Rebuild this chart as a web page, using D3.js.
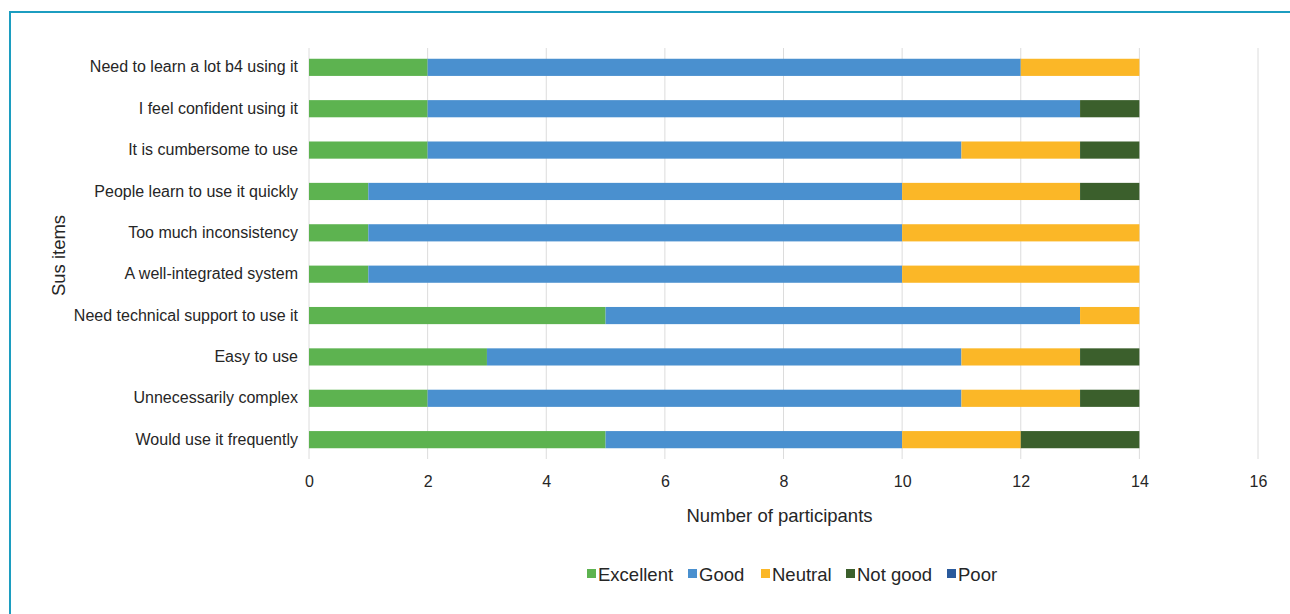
<!DOCTYPE html>
<html>
<head>
<meta charset="utf-8">
<script src="https://cdn.jsdelivr.net/npm/d3@7"></script>
<style>
  body { margin: 0; background: #fff; }
  text { font-family: "Liberation Sans", Arial, sans-serif; fill: #262626; }
</style>
</head>
<body>
<div class="chart"></div>
<script>
var items = [
  "Need to learn a lot b4 using it",
  "I feel confident using it",
  "It is cumbersome to use",
  "People learn to use it quickly",
  "Too much inconsistency",
  "A well-integrated system",
  "Need technical support to use it",
  "Easy to use",
  "Unnecessarily complex",
  "Would use it frequently"
];
var seriesNames = ["Excellent", "Good", "Neutral", "Not good", "Poor"];
var excellent = [2, 2, 2, 1, 1, 1, 5, 3, 2, 5];
var good      = [10, 11, 9, 9, 9, 9, 8, 8, 9, 5];
var neutral   = [2, 0, 2, 3, 4, 4, 1, 2, 2, 2];
var notGood   = [0, 1, 1, 1, 0, 0, 0, 1, 1, 2];
var poor      = [0, 0, 0, 0, 0, 0, 0, 0, 0, 0];
var xTicks = [0, 2, 4, 6, 8, 10, 12, 14, 16];
var colors = ["#5db350", "#4a90cf", "#fbb727", "#3b5f2c", "#2a5a9c"];

var svgWidth = 1290;
var svgHeight = 614;
var margin = { top: 48, right: 32, bottom: 155, left: 309 };
var width = svgWidth - margin.left - margin.right;
var height = svgHeight - margin.top - margin.bottom;

var svg = d3.select(".chart")
  .append("svg")
  .attr("width", svgWidth)
  .attr("height", svgHeight);

// frame
svg.append("path")
  .attr("d", "M10,614 V12 H1290")
  .attr("fill", "none")
  .attr("stroke", "#1c9dc0")
  .attr("stroke-width", 2);

var chartGroup = svg.append("g")
  .attr("transform", `translate(${margin.left}, ${margin.top})`);

// build table for stack
var rows = items.map(function(d, i) {
  return { item: d, "Excellent": excellent[i], "Good": good[i], "Neutral": neutral[i], "Not good": notGood[i], "Poor": poor[i] };
});
var stacked = d3.stack().keys(seriesNames)(rows);

var xScale = d3.scaleLinear().domain([0, 16]).range([0, width]);
var yScale = d3.scaleBand().domain(items).range([0, height]).paddingInner(0.585).paddingOuter(0.26);

// grid
chartGroup.selectAll(".grid")
  .data(xTicks)
  .enter()
  .append("line")
  .attr("x1", d => xScale(d))
  .attr("x2", d => xScale(d))
  .attr("y1", 0)
  .attr("y2", height)
  .attr("stroke", "#dcdcdc")
  .attr("stroke-width", 1);

// bars
chartGroup.selectAll(".series")
  .data(stacked)
  .enter()
  .append("g")
  .attr("fill", (d, i) => colors[i])
  .selectAll("rect")
  .data(d => d)
  .enter()
  .append("rect")
  .attr("x", d => xScale(d[0]))
  .attr("y", d => yScale(d.data.item))
  .attr("width", d => xScale(d[1]) - xScale(d[0]))
  .attr("height", yScale.bandwidth());

// axes
var bottomAxis = d3.axisBottom(xScale).tickValues(xTicks).tickSize(0).tickPadding(17);
var xg = chartGroup.append("g")
  .attr("transform", `translate(0, ${height})`)
  .call(bottomAxis);
xg.select(".domain").remove();
xg.selectAll("text").style("font-size", "16px").attr("fill", "#262626");

var leftAxis = d3.axisLeft(yScale).tickSize(0).tickPadding(11);
var yg = chartGroup.append("g").call(leftAxis);
yg.select(".domain").remove();
yg.selectAll("text").style("font-size", "16px").attr("fill", "#262626");

// axis titles
chartGroup.append("text")
  .attr("transform", "rotate(-90)")
  .attr("x", -height / 2 - 2)
  .attr("y", -margin.left + 65)
  .attr("text-anchor", "middle")
  .style("font-size", "18.5px")
  .text("Sus items");

chartGroup.append("text")
  .attr("x", width / 2 - 4)
  .attr("y", height + 63)
  .attr("text-anchor", "middle")
  .style("font-size", "18.5px")
  .text("Number of participants");

// legend
var legend = svg.append("g").attr("transform", "translate(587, 574)");
var offsets = [0, 101, 174, 259, 360];
seriesNames.forEach(function(name, i) {
  var g = legend.append("g").attr("transform", `translate(${offsets[i]}, 0)`);
  g.append("rect").attr("x", 0).attr("y", -5).attr("width", 9).attr("height", 9).attr("fill", colors[i]);
  g.append("text").attr("x", 11).attr("y", 7).style("font-size", "18.5px").text(name);
});
</script>
</body>
</html>
